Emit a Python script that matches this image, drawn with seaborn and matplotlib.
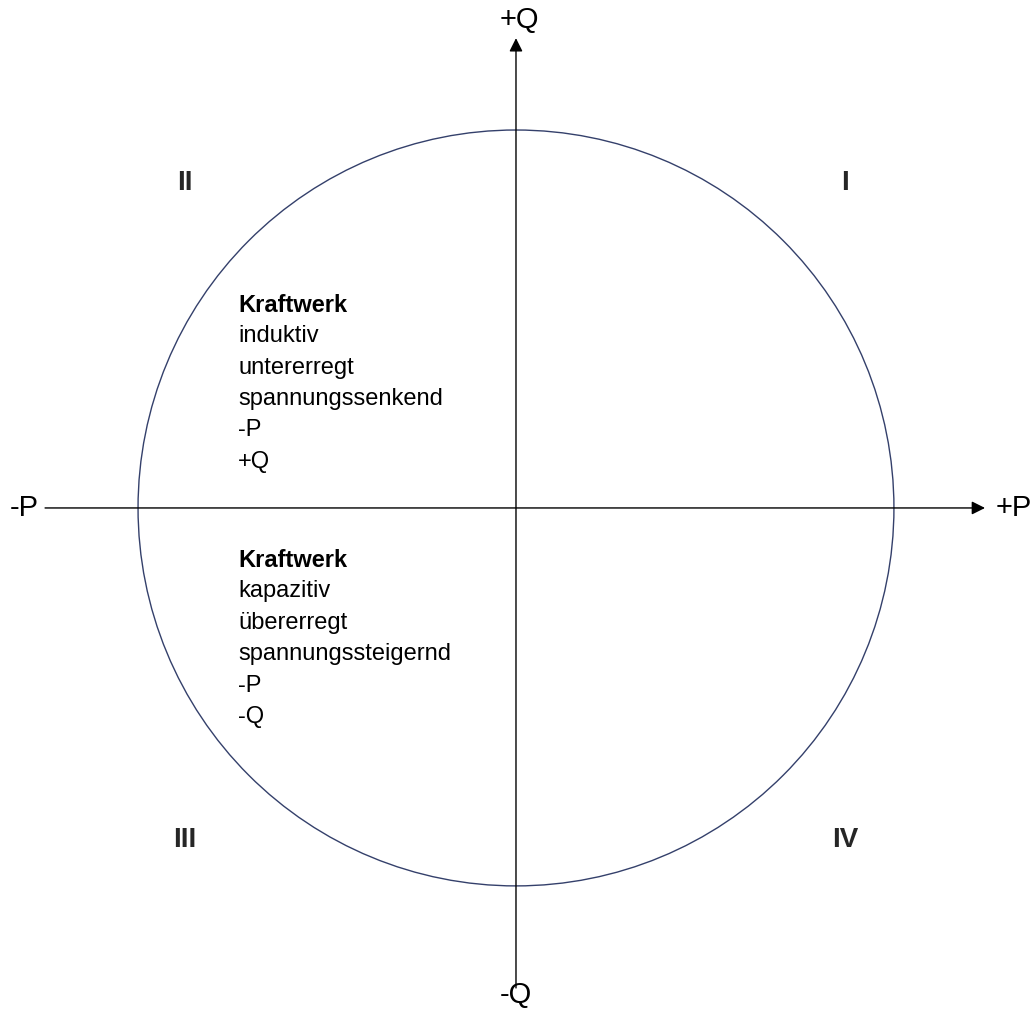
import matplotlib
matplotlib.use('Agg')
import matplotlib.pyplot as plt
from matplotlib.patches import Circle
import seaborn as sns

sns.set_theme(style='white')
plt.rcParams['font.family'] = ['Liberation Sans', 'DejaVu Sans']

# ================= DATA =================
# unit circle in the P-Q plane, axis ends and labels
radius = 1.0
axis_p = (-1.246, 1.241)      # tail / tip of P axis
axis_q = (-1.27, 1.243)       # tail / tip of Q axis
axis_labels = ['-P', '+P', '-Q', '+Q']
label_pos = [(-1.300, 0.0), (1.318, 0.0), (0.0, -1.288), (0.01, 1.292)]

quadrants = ['I', 'II', 'III', 'IV']
quad_pos = [(0.87, 0.86), (-0.876, 0.86), (-0.876, -0.878), (0.87, -0.878)]

block_upper = ['Kraftwerk', 'induktiv', 'untererregt', 'spannungssenkend', '-P', '+Q']
block_lower = ['Kraftwerk', 'kapazitiv', 'übererregt', 'spannungssteigernd', '-P', '-Q']
block_x = -0.735
block_top = [0.537, -0.138]   # y of first line of each block
line_step = 0.083

# ================= PLOT =================
fig = plt.figure(figsize=(10.35, 10.11), dpi=100)
ax = fig.add_axes([0, 0, 1, 1])
ax.set_xlim(-1.365, 1.373)
ax.set_ylim(-1.331, 1.344)
ax.set_aspect('equal')
ax.axis('off')

ax.add_patch(Circle((0, 0), radius, fill=False, ec='#34406b', lw=1.0))

arrow = dict(arrowstyle='-|>', color='black', lw=1.0, mutation_scale=20,
             shrinkA=0, shrinkB=0)
ax.annotate('', xy=(axis_p[1], 0), xytext=(axis_p[0], 0), arrowprops=arrow)
ax.annotate('', xy=(0, axis_q[1]), xytext=(0, axis_q[0]), arrowprops=arrow)

for lab, (x, y) in zip(axis_labels, label_pos):
    ax.text(x, y, lab, fontsize=21, ha='center', va='center', color='black')

for q, (x, y) in zip(quadrants, quad_pos):
    ax.text(x, y, q, fontsize=20, fontweight='bold', ha='center', va='center')

for block, y0 in zip([block_upper, block_lower], block_top):
    for i, line in enumerate(block):
        ax.text(block_x, y0 - i * line_step, line, fontsize=17,
                fontweight='bold' if i == 0 else 'normal',
                ha='left', va='center', color='black')

plt.savefig('out.png', dpi=100)
